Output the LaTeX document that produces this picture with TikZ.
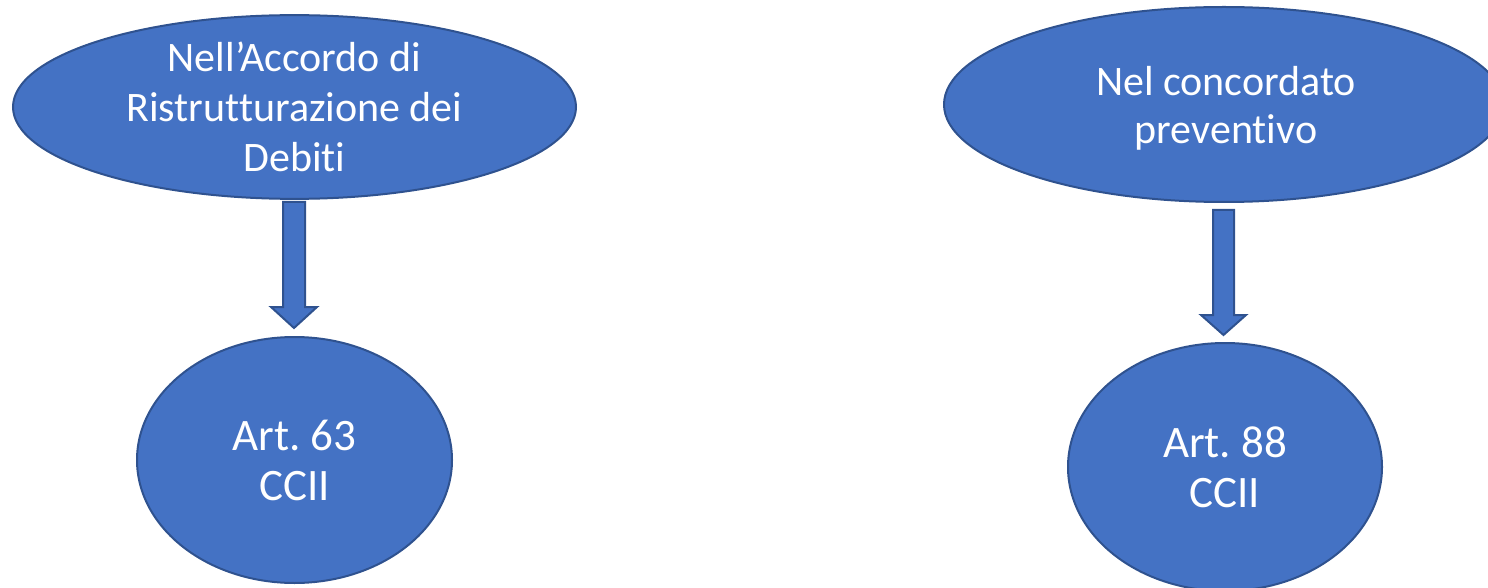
\documentclass[tikz,border=0pt]{standalone}
\usepackage{fontspec}
\setmainfont{Carlito}[Ligatures=NoCommon]
\usetikzlibrary{shapes.geometric}
\definecolor{boxfill}{HTML}{4472C4}
\definecolor{boxline}{HTML}{2F528F}
\tikzset{
  oval/.style={ellipse, draw=boxline, fill=boxfill, line width=1pt, inner sep=0pt,
    text=white, align=center, font=\fontsize{22.5}{25}\selectfont},
  smalltext/.style={font=\fontsize{21}{25}\selectfont},
  blockarrow/.style={draw=boxline, fill=boxfill, line width=1pt, line join=miter}
}
\frenchspacing
\begin{document}
\begin{tikzpicture}[x=0.5pt, y=-0.5pt]
\useasboundingbox (0,0) rectangle (1488,588);
% left column
\node[oval, smalltext, minimum width=281.5pt, minimum height=87pt] (accordo) at (294.5,107)
  {Nell’Accordo di\\Ristrutturazione dei\\Debiti};
\node[oval, minimum width=157.5pt, minimum height=123pt] (art63) at (294.5,460)
  {Art. 63\\CCII};
\draw[blockarrow] (283,202) -- (305,202) -- (305,307) -- (317,307) -- (294,328)
  -- (271,307) -- (283,307) -- cycle;
% right column
\node[oval, minimum width=280pt, minimum height=97.5pt] (concordato) at (1224,104.5) {};
\node[text=white, align=center, font=\fontsize{21}{24}\selectfont] (concordatotext) at (1226,108)
  {Nel concordato\\preventivo};
\node[oval, minimum width=157pt, minimum height=124pt] (art88) at (1225,467)
  {Art. 88\\CCII};
\draw[blockarrow] (1213,210) -- (1234,210) -- (1234,315) -- (1246,315) -- (1223.5,335)
  -- (1201,315) -- (1213,315) -- cycle;
\end{tikzpicture}
\end{document}
